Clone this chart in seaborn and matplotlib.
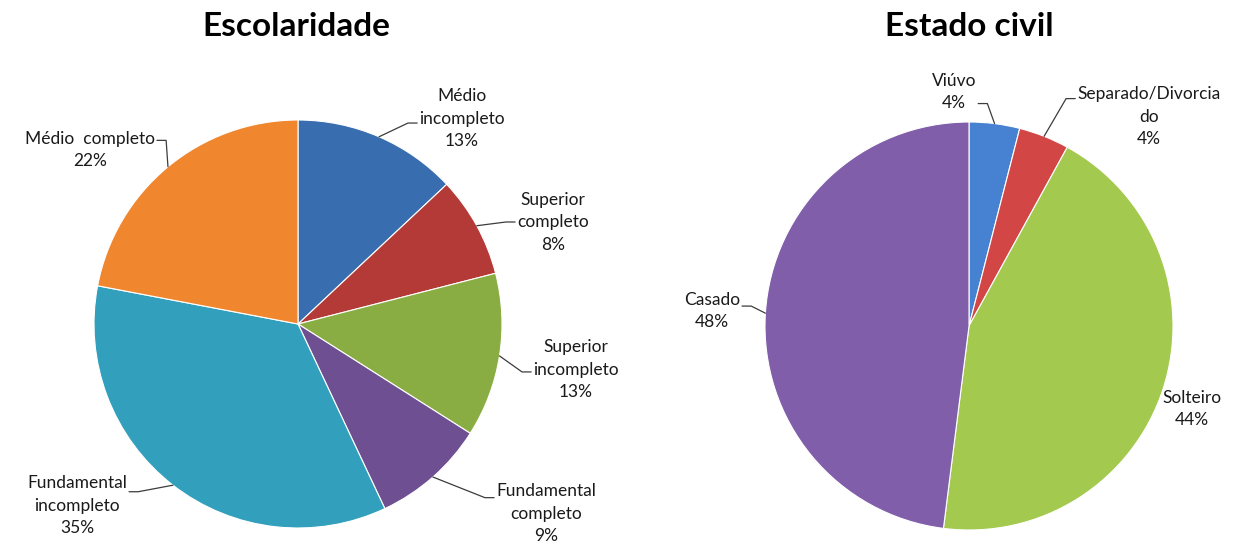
import numpy as np
import matplotlib
matplotlib.use("Agg")
import matplotlib.pyplot as plt
import seaborn as sns

# Escolaridade
edu_labels = ["Médio\nincompleto", "Superior\ncompleto", "Superior\nincompleto",
              "Fundamental\ncompleto", "Fundamental\nincompleto", "Médio  completo"]
edu_values = [13, 8, 13, 9, 35, 22]
edu_colors = ["#386EB0", "#B43A38", "#8AAD43", "#6E4F92", "#32A0BC", "#F0872F"]

# Estado civil
civil_labels = ["Viúvo", "Separado/Divorcia\ndo", "Solteiro", "Casado"]
civil_values = [4, 4, 44, 48]
civil_colors = ["#4781D1", "#D24745", "#A3C94F", "#805EAA"]

sns.set_theme(style="white")
plt.rcParams["font.family"] = ["Lato", "DejaVu Sans"]

W, H = 1239, 546
fig = plt.figure(figsize=(W / 100, H / 100), dpi=100)
R = 204  # pie radius in pixels
TEXT_COLOR = "#1a1a1a"
LINE_COLOR = "#3c3c3c"


def make_axes(cx, cy, x0, x1):
    """Axes over pixel columns x0..x1; one data unit equals R pixels, pie at (cx, cy)."""
    ax = fig.add_axes([x0 / W, 0, (x1 - x0) / W, 1])
    lims = ((x0 - cx) / R, (x1 - cx) / R), ((cy - H) / R, cy / R)
    return ax, lims


def draw_pie(ax, lims, values, labels, colors, label_pos, leaders):
    wedges, _ = ax.pie(values, colors=sns.color_palette(colors), startangle=90,
                       counterclock=False, radius=1.0,
                       wedgeprops=dict(edgecolor="white", linewidth=0.8))
    ax.set_xlim(*lims[0])
    ax.set_ylim(*lims[1])
    ax.set_aspect("auto")
    ax.axis("off")

    texts = []
    for lab, v, (x, y) in zip(labels, values, label_pos):
        t = ax.text(x, y, f"{lab}\n{v}%", ha="center", va="center",
                    fontsize=12.5, color=TEXT_COLOR, linespacing=1.5)
        texts.append(t)

    fig.canvas.draw()
    renderer = fig.canvas.get_renderer()
    inv = ax.transData.inverted()
    for w, t, spec in zip(wedges, texts, leaders):
        if spec is None:
            continue
        side, line_pos = spec
        bb = t.get_window_extent(renderer)
        (bx0, by0), (bx1, by1) = inv.transform([[bb.x0, bb.y0], [bb.x1, bb.y1]])
        nlines = t.get_text().count("\n") + 1
        lh = (by1 - by0) / nlines
        ys = by1 - (line_pos + 0.5) * lh
        if side == "L":
            xs, xk = bx0 - 0.01, bx0 - 0.055
        else:
            xs, xk = bx1 + 0.01, bx1 + 0.055
        mid = np.deg2rad((w.theta1 + w.theta2) / 2)
        xe, ye = np.cos(mid), np.sin(mid)
        ax.plot([xs, xk, xe], [ys, ys, ye], color=LINE_COLOR, lw=0.9,
                solid_joinstyle="miter")


ax1, lims1 = make_axes(298, 324, 0, 620)
draw_pie(ax1, lims1, edu_values, edu_labels, edu_colors,
         label_pos=[(0.804, 1.005), (1.25, 0.5), (1.363, -0.225),
                    (1.216, -0.931), (-1.083, -0.892), (-1.02, 0.853)],
         leaders=[("L", 1.2), ("L", 1.0), ("L", 1.1),
                  ("L", 0.2), ("R", 0.3), ("R", 0.0)])

ax2, lims2 = make_axes(969, 326, 620, 1239)
draw_pie(ax2, lims2, civil_values, civil_labels, civil_colors,
         label_pos=[(-0.074, 1.147), (0.882, 1.025), (1.093, -0.407), (-1.26, 0.074)],
         leaders=[("R", 1.1), ("L", 0.1), None, ("R", 0.25)])

fig.text(296 / W, 1 - 27 / H, "Escolaridade", ha="center", va="center",
         fontsize=24, fontweight="bold", color="black")
fig.text(969 / W, 1 - 27 / H, "Estado civil", ha="center", va="center",
         fontsize=24, fontweight="bold", color="black")

fig.savefig("out.png", dpi=100, facecolor="white")
